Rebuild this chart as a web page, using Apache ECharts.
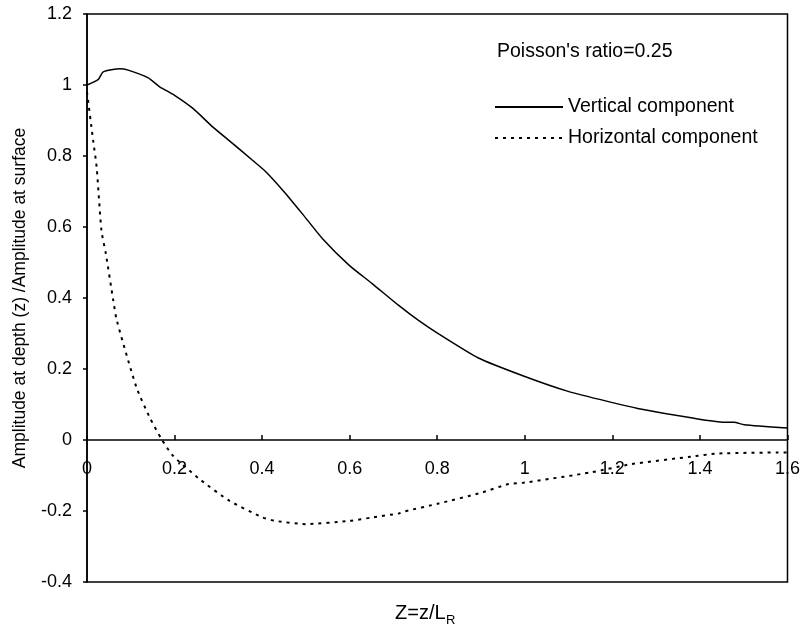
<!DOCTYPE html>
<html>
<head>
<meta charset="utf-8">
<script src="https://cdn.jsdelivr.net/npm/echarts@6/dist/echarts.min.js"></script>
<style>html,body{margin:0;padding:0;background:#fff}#c{width:803px;height:630px}</style>
</head>
<body>
<div id="c"></div>
<script>
const xTicks = [0, 0.2, 0.4, 0.6, 0.8, 1, 1.2, 1.4, 1.6];
const yTicks = [-0.4, -0.2, 0, 0.2, 0.4, 0.6, 0.8, 1, 1.2];

const vertX = [0, 0.026, 0.037, 0.075, 0.094, 0.14, 0.166, 0.2, 0.242, 0.287, 0.333, 0.378, 0.409, 0.451, 0.492, 0.538, 0.599, 0.652, 0.712, 0.758, 0.803, 0.894, 1.0, 1.099, 1.198, 1.258, 1.387, 1.456, 1.478, 1.501, 1.6];
const vertY = [1.0, 1.016, 1.037, 1.046, 1.042, 1.02, 0.995, 0.971, 0.934, 0.882, 0.835, 0.788, 0.755, 0.698, 0.637, 0.567, 0.492, 0.44, 0.379, 0.336, 0.299, 0.231, 0.179, 0.137, 0.106, 0.089, 0.061, 0.05, 0.05, 0.043, 0.034];

const horX = [0, 0.014, 0.022, 0.033, 0.043, 0.06, 0.068, 0.113, 0.143, 0.17, 0.196, 0.257, 0.325, 0.401, 0.431, 0.5, 0.599, 0.652, 0.712, 0.726, 0.803, 0.902, 0.963, 1.0, 1.152, 1.243, 1.38, 1.44, 1.6];
const horY = [0.98, 0.844, 0.769, 0.59, 0.525, 0.393, 0.337, 0.148, 0.064, 0.003, -0.044, -0.11, -0.171, -0.218, -0.228, -0.237, -0.228, -0.218, -0.207, -0.201, -0.179, -0.148, -0.124, -0.12, -0.091, -0.068, -0.047, -0.038, -0.035];

const seriesNames = ['Vertical component', 'Horizontal component'];
const yAxisTitle = 'Amplitude at depth (z) /Amplitude at surface';
const xAxisTitle = 'Z=z/L';
const xAxisTitleSub = 'R';
const noteText = "Poisson's ratio=0.25";

const font = 'Liberation Sans, Arial, sans-serif';
const chart = echarts.init(document.getElementById('c'));
chart.setOption({
  animation: false,
  backgroundColor: '#fff',
  grid: { left: 87, right: 13, top: 14, bottom: 48, show: true, borderColor: '#000', borderWidth: 1.5, backgroundColor: 'transparent' },
  xAxis: {
    type: 'value', min: xTicks[0], max: xTicks[xTicks.length - 1], interval: 0.2,
    axisLine: { onZero: false, lineStyle: { color: '#000', width: 1.5 } },
    axisTick: { inside: true, length: 5, lineStyle: { color: '#000', width: 1.5 } },
    axisLabel: { color: '#000', fontSize: 18, fontFamily: font, margin: 20, showMaxLabel: true, showMinLabel: true },
    splitLine: { show: false }
  },
  yAxis: {
    type: 'value', min: yTicks[0], max: yTicks[yTicks.length - 1], interval: 0.2,
    name: yAxisTitle, nameLocation: 'middle', nameGap: 58, nameRotate: 90,
    nameTextStyle: { color: '#000', fontSize: 17.5, fontFamily: font },
    axisLine: { lineStyle: { color: '#000', width: 1.5 } },
    axisTick: { inside: false, length: 4, lineStyle: { color: '#000', width: 1.5 } },
    axisLabel: { color: '#000', fontSize: 18, fontFamily: font, margin: 15 },
    splitLine: { show: false }
  },
  legend: {
    orient: 'vertical', left: 489, top: 92, itemWidth: 68, itemHeight: 14, itemGap: 11,
    itemStyle: { opacity: 0 },
    textStyle: { color: '#000', fontSize: 19.5, fontFamily: font },
    data: seriesNames
  },
  graphic: [
    { type: 'text', x: 497, y: 51.5, style: { text: noteText, fill: '#000', font: '19.5px ' + font, verticalAlign: 'middle' } },
    { type: 'text', x: 395, y: 613, style: { text: xAxisTitle, fill: '#000', font: '20px ' + font, verticalAlign: 'middle' } },
    { type: 'text', x: 446, y: 620.5, style: { text: xAxisTitleSub, fill: '#000', font: '13px ' + font, verticalAlign: 'middle' } }
  ],
  series: [
    { name: seriesNames[0], type: 'line', symbol: 'none', smooth: 0.2,
      lineStyle: { color: '#000', width: 1.5, type: 'solid' }, itemStyle: { color: '#000' },
      data: vertX.map((x, i) => [x, vertY[i]]) },
    { name: seriesNames[1], type: 'line', symbol: 'none', smooth: 0.2,
      lineStyle: { color: '#000', width: 2, type: [3, 5] }, itemStyle: { color: '#000' },
      data: horX.map((x, i) => [x, horY[i]]) }
  ]
});
// place the x axis on the zero line (offset derived from the y scale)
const yZero = chart.convertToPixel({ yAxisIndex: 0 }, 0);
const yBottom = chart.convertToPixel({ yAxisIndex: 0 }, yTicks[0]);
chart.setOption({ xAxis: { offset: -(yBottom - yZero) } });
</script>
</body>
</html>
